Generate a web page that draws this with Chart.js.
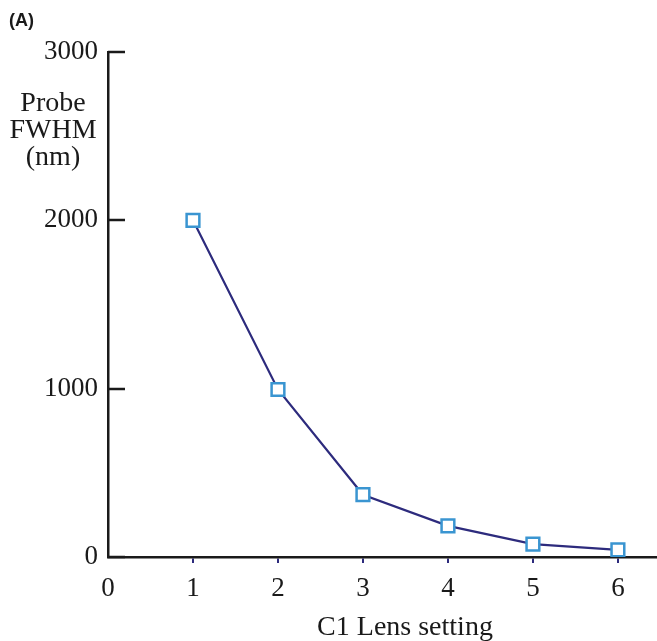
<!DOCTYPE html>
<html>
<head>
<meta charset="utf-8">
<script src="https://cdn.jsdelivr.net/npm/chart.js@4.4.1/dist/chart.umd.min.js"></script>
<style>
  html, body { margin: 0; padding: 0; background: #fff; overflow: hidden; }
  #wrap { width: 657px; height: 641px; position: relative; }
</style>
</head>
<body>
<div id="wrap"><canvas id="probe-chart"></canvas></div>
<script>
const lensSettings = [1, 2, 3, 4, 5, 6];
const probeFwhm = [2000, 995, 370, 185, 77, 42];
const yTickValues = [0, 1000, 2000, 3000];
const yTitleLines = ["Probe", "FWHM", "(nm)"];
const xTitle = "C1 Lens setting";
const panelLabel = "(A)";

const serif = "'Liberation Serif', 'DejaVu Serif', serif";

// inward y ticks + free-floating text labels
const extras = {
  id: "extras",
  afterDraw(chart) {
    const { ctx, scales } = chart;
    const y = scales.y;
    ctx.save();
    ctx.strokeStyle = "#1a1a1a";
    ctx.lineWidth = 2.5;
    yTickValues.forEach(v => {
      const py = Math.round(y.getPixelForValue(v));
      ctx.beginPath();
      ctx.moveTo(y.right, py);
      ctx.lineTo(y.right + 17, py);
      ctx.stroke();
    });

    ctx.fillStyle = "#1a1a1a";
    ctx.textAlign = "center";
    ctx.textBaseline = "middle";
    ctx.font = "28px " + serif;
    yTitleLines.forEach((t, i) => ctx.fillText(t, 53, 104 + i * 27));
    ctx.fillText(xTitle, 405, 628);

    ctx.textAlign = "left";
    ctx.font = "bold 18px 'Liberation Sans', Arial, sans-serif";
    ctx.fillText(panelLabel, 9, 21);
    ctx.restore();
  }
};

const ctx = document.getElementById("probe-chart").getContext("2d");

new Chart(ctx, {
  type: "line",
  data: {
    datasets: [
      {
        data: lensSettings.map((x, i) => ({ x, y: probeFwhm[i] })),
        borderColor: "#2d2b7d",
        borderWidth: 2.2,
        tension: 0,
        pointStyle: "rect",
        pointRadius: 9,
        pointBorderWidth: 2.5,
        pointBorderColor: "#3a95d1",
        pointBackgroundColor: "#ffffff"
      }
    ]
  },
  options: {
    responsive: true,
    maintainAspectRatio: false,
    animation: false,
    layout: { autoPadding: false, padding: { top: 52, right: 0, left: 0, bottom: 0 } },
    plugins: { legend: { display: false }, tooltip: { enabled: false } },
    scales: {
      x: {
        type: "linear",
        min: 0,
        max: 6.46,
        afterFit(scale) {
          scale.height = 84;
          scale.paddingLeft = 0;
          scale.paddingRight = 0;
        },
        border: { display: true, color: "#1a1a1a", width: 2.5 },
        grid: {
          drawOnChartArea: false,
          drawTicks: true,
          tickLength: 6,
          lineWidth: 2,
          color: c => (c.tick && c.tick.value === 0 ? "rgba(0,0,0,0)" : "#2d2b7d")
        },
        ticks: {
          stepSize: 1,
          includeBounds: false,
          padding: 10,
          color: "#1a1a1a",
          font: { family: serif, size: 27 },
          maxRotation: 0,
          callback: v => String(v)
        }
      },
      y: {
        min: 0,
        max: 3000,
        afterFit(scale) {
          scale.width = 108;
          scale.paddingTop = 0;
          scale.paddingBottom = 0;
        },
        afterBuildTicks(scale) { scale.ticks = yTickValues.map(v => ({ value: v })); },
        border: { display: true, color: "#1a1a1a", width: 2.5 },
        grid: { display: false, drawTicks: false },
        ticks: {
          padding: 10,
          color: "#1a1a1a",
          font: { family: serif, size: 27 },
          callback: v => String(v)
        }
      }
    }
  },
  plugins: [extras]
});
</script>
</body>
</html>
